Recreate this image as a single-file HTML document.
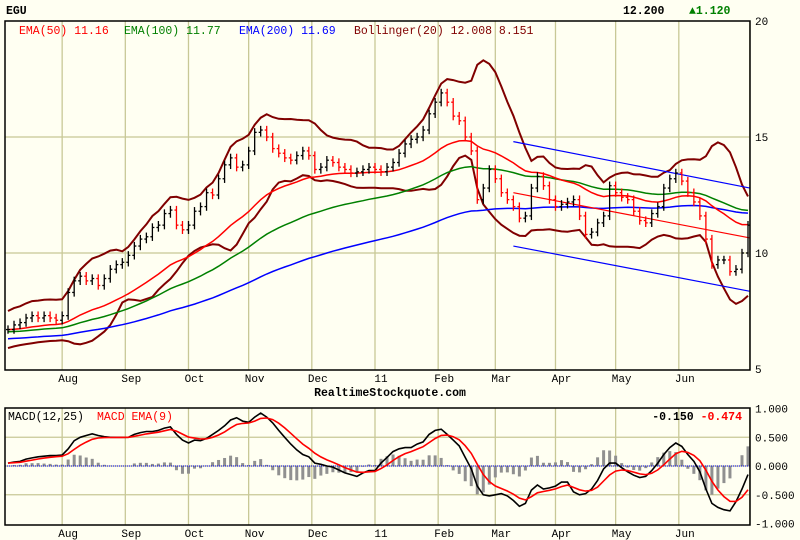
<!DOCTYPE html>
<html><head><meta charset="utf-8"><style>
body{margin:0;background:#fffff2;}
svg{display:block;font-family:"Liberation Mono",monospace;}
</style></head><body>
<svg id="c" width="800" height="540" viewBox="0 0 800 540">
<rect width="800" height="540" fill="#fffff2"/>
<text x="6" y="14" font-size="11.5" font-weight="bold" fill="#000">EGU</text>
<text x="623" y="14" font-size="11.5" font-weight="bold" fill="#000">12.200</text>
<text x="689" y="14" font-size="11.5" font-weight="bold" fill="#008000">▲1.120</text>
<g id="main"></g>
<g id="macd"></g>
<text x="390" y="396" font-size="11.5" font-weight="bold" text-anchor="middle" fill="#000">RealtimeStockquote.com</text>
</svg>
<script>
const closes=[6.7,6.9,7.0,7.2,7.3,7.2,7.3,7.2,7.1,7.3,8.3,8.8,9.0,8.8,8.9,8.6,8.9,9.3,9.5,9.6,9.9,10.3,10.6,10.7,11.1,11.2,11.7,11.85,11.2,11.0,11.2,11.8,12.0,12.6,12.5,13.2,13.8,14.1,13.7,13.8,14.4,15.2,15.3,15.0,14.5,14.3,14.1,14.0,14.2,14.4,14.2,13.6,13.7,14.0,13.9,13.7,13.6,13.45,13.5,13.6,13.7,13.6,13.5,13.7,13.9,14.3,14.7,14.9,15.0,15.3,16.0,16.5,16.9,16.5,15.9,15.7,15.0,14.4,12.3,12.8,13.6,13.2,12.6,12.3,12.0,11.5,11.6,12.8,13.3,12.9,12.3,12.0,12.1,12.2,12.3,11.6,10.8,10.9,11.3,11.6,12.9,12.6,12.4,12.3,11.8,11.4,11.3,11.7,12.0,12.8,13.2,13.45,13.1,12.6,12.2,11.6,10.6,9.5,9.7,9.7,9.2,9.3,10.0,11.2];
const macdVals=[.05,.07,.08,.12,.14,.16,.17,.18,.18,.19,.30,.44,.50,.53,.56,.53,.51,.50,.50,.50,.50,.55,.58,.60,.60,.62,.66,.68,.55,.45,.40,.45,.44,.48,.55,.62,.70,.80,.84,.78,.76,.85,.92,.85,.75,.62,.50,.38,.28,.20,.16,.05,.03,0,-.02,-.07,-.12,-.15,-.18,-.12,-.08,-.08,.05,.15,.25,.30,.32,.32,.38,.42,.55,.62,.64,.55,.45,.35,.15,-.05,-.35,-.50,-.52,-.50,-.48,-.52,-.60,-.70,-.65,-.42,-.33,-.40,-.38,-.35,-.28,-.28,-.45,-.50,-.48,-.40,-.25,-.05,.05,.05,-.03,-.10,-.16,-.20,-.18,-.08,.05,.20,.32,.40,.34,.20,.08,-.10,-.40,-.65,-.72,-.76,-.78,-.62,-.40,-.15];
const emaSeeds=[6.7,6.6,6.3];
const emaPeriods=[25,50,100];
const emaColors=["#ff0000","#008000","#0000ff"];
const channelUpper=[14.8,12.8];
const channelMid=[12.6,10.65];
const channelLower=[10.3,8.35];
const channelStartIndex=84;
const monthLabels=["Aug","Sep","Oct","Nov","Dec","11","Feb","Mar","Apr","May","Jun",""];
const monthIndex=[9,19.5,30,40,50.5,61,71.5,81,91,101,111.5,123.3];
const priceTicks=[20,15,10,5];
const macdTicks=[1,0.5,0,-0.5,-1];
const macdTickLabels=["1.000","0.500","0.000","-0.500","-1.000"];

const NS="http://www.w3.org/2000/svg";
function mk(tag,attrs,parent){const e=document.createElementNS(NS,tag);for(const k in attrs)e.setAttribute(k,attrs[k]);parent.appendChild(e);return e;}
const L=5,R=750,PT=21,PB=370,MT=408,MB=525;
const xs=i=>8+i*(740/(closes.length-1));
const py=p=>253-(p-10)*23.2;
const my=v=>466-v*57.5;
const main=document.getElementById('main'),mac=document.getElementById('macd');
const grid="#c8c896";
function panel(g,top,bot,ticks,yf,labels,nm){
  let r=mk('rect',{x:L,y:top,width:R-L,height:bot-top,fill:'#fffff2',stroke:'none'},g);
  
  monthIndex.forEach((mi,k)=>{const x=xs(mi);
    let l=mk('line',{x1:x,x2:x,y1:top,y2:bot,stroke:grid,'stroke-width':1.3},g);
    
    if(monthLabels[k]){let t=mk('text',{x:x+6,y:bot+12,'font-size':11,'text-anchor':'middle',fill:'#000'},g);t.textContent=monthLabels[k];
    }
  });
  ticks.forEach((v,k)=>{const y=yf(v);
    if(y>top+2&&y<bot-2){let l=mk('line',{x1:L,x2:R,y1:y,y2:y,stroke:grid,'stroke-width':1.3},g);
    }
    let t=mk('text',{x:755,y:y+4,'font-size':11,fill:'#000'},g);t.textContent=labels[k];
    
  });
}
panel(main,PT,PB,priceTicks,py,priceTicks.map(String),'price');
panel(mac,MT,MB,macdTicks,my,macdTickLabels,'macd');
function path(pts,attrs,g,nm){const d=pts.map((p,i)=>(i?'L':'M')+p[0].toFixed(1)+','+p[1].toFixed(1)).join('');
  const e=mk('path',Object.assign({d:d,fill:'none'},attrs),g);return e;}
const emaLines=emaPeriods.map((p,k)=>{const a=2/(p+1);let e=emaSeeds[k];return closes.map(c=>{e=e+a*(c-e);return e;});});
const bu=[],bl=[];
closes.forEach((c,i)=>{const w=closes.slice(Math.max(0,i-9),i+1);const m=w.reduce((s,v)=>s+v,0)/w.length;
  const sd=Math.sqrt(w.reduce((s,v)=>s+(v-m)*(v-m),0)/w.length);const s=Math.sqrt(sd*sd+0.16);bu.push(m+2*s);bl.push(m-2*s);});
path(bu.map((v,i)=>[xs(i),py(v)]),{stroke:'#800000','stroke-width':2},main,'bollinger-upper');
path(bl.map((v,i)=>[xs(i),py(v)]),{stroke:'#800000','stroke-width':2},main,'bollinger-lower');
emaLines.slice().reverse().forEach((ln,k)=>{const idx=2-k;
  path(ln.map((v,i)=>[xs(i),py(v)]),{stroke:emaColors[idx],'stroke-width':1.5},main,'ema-line-'+emaPeriods[idx]);});
const cx0=xs(channelStartIndex),cx1=xs(closes.length-1)+2;
[[channelUpper,'#0000ff','channel-upper'],[channelMid,'#ff0000','channel-middle'],[channelLower,'#0000ff','channel-lower']].forEach(([c,col,nm])=>{
  let l=mk('line',{x1:cx0,y1:py(c[0]),x2:cx1,y2:py(c[1]),stroke:col,'stroke-width':1.2},main);
  });
closes.forEach((c,i)=>{const o=i?closes[i-1]:c;const hi=Math.max(o,c)+0.18,lo=Math.min(o,c)-0.18;const x=xs(i);
  const col=c<o?'#ff0000':'#000';const g=mk('g',{stroke:col,'stroke-width':1.3},main);
  
  mk('line',{x1:x,x2:x,y1:py(hi),y2:py(lo)},g);mk('line',{x1:x-2,x2:x,y1:py(o),y2:py(o)},g);mk('line',{x1:x,x2:x+2,y1:py(c),y2:py(c)},g);});
let s=macdVals[0];const sig=macdVals.map(v=>{s=s+(v-s)/3;return s;});
macdVals.forEach((v,i)=>{const h=(v-sig[i])*1.3;const y0=my(0),y1=my(h);
  let b=mk('rect',{x:xs(i)-1.5,y:Math.min(y0,y1),width:3,height:Math.abs(y1-y0),fill:'#909090'},mac);
  });
let z=mk('line',{x1:L,x2:R,y1:my(0),y2:my(0),stroke:'#0000ff','stroke-width':1,'stroke-dasharray':'1,1'},mac);

path(macdVals.map((v,i)=>[xs(i),my(v)]),{stroke:'#000','stroke-width':1.6},mac,'macd-line');
path(sig.map((v,i)=>[xs(i),my(v)]),{stroke:'#ff0000','stroke-width':1.6},mac,'macd-signal-line');
[[PT,PB,main,'price-frame'],[MT,MB,mac,'macd-frame']].forEach(([t,b,g,nm])=>{let r=mk('rect',{x:L,y:t,width:R-L,height:b-t,fill:'none',stroke:'#000','stroke-width':1.5},g);
  });
function txt(g,x,y,str,col,nm,anchor){let t=mk('text',{x:x,y:y,'font-size':11.5,fill:col,'text-anchor':anchor||'start'},g);t.textContent=str;
  }
txt(main,19,34,'EMA(50) 11.16','#ff0000','legend-ema50');
txt(main,124,34,'EMA(100) 11.77','#008000','legend-ema100');
txt(main,239,34,'EMA(200) 11.69','#0000ff','legend-ema200');
txt(main,354,34,'Bollinger(20) 12.008 8.151','#800000','legend-bollinger');
txt(mac,8,420,'MACD(12,25)','#000','legend-macd');
txt(mac,97,420,'MACD EMA(9)','#ff0000','legend-macd-signal');
let a=mk('text',{x:742,y:420,'font-size':11.5,'font-weight':'bold','text-anchor':'end'},mac);

a.innerHTML='<tspan fill="#000">-0.150</tspan> <tspan fill="#ff0000">-0.474</tspan>';
</script>
</body></html>
